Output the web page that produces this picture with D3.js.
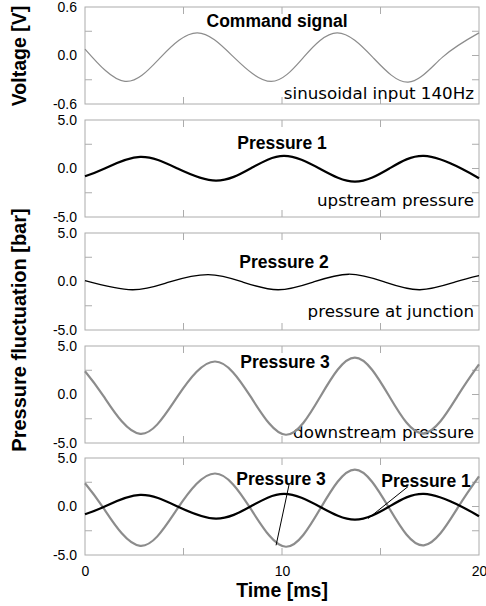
<!DOCTYPE html>
<meta charset="utf-8">
<style>
  body { margin: 0; background: #fff; }
  text { font-family: "Liberation Sans", Arial, sans-serif; }
</style>
<body>
<div id="chart"></div>
<script src="https://cdn.jsdelivr.net/npm/d3@7"></script>
<script>
// time axis
var timeDomain = [0, 20];
var timeTickLabels = [0, 10, 20];
var timeMinorTicks = [5, 10, 15];

// command signal [V]
var cmdTime = [0, 2.03, 3.85, 5.7, 7.55, 9.45, 11.1, 12.8, 14.6, 16.4, 18.15, 20];
var cmdVolt = [0.08, -0.32, -0.02, 0.28, -0.02, -0.32, -0.02, 0.28, -0.02, -0.33, -0.02, 0.28];

// pressure 1 (upstream) [bar]
var p1Time = [0, 1.0, 2.8, 4.7, 6.65, 8.4, 10.1, 11.9, 13.7, 15.45, 17.2, 19.1, 20];
var p1Val = [-0.8, 0, 1.2, 0, -1.25, 0, 1.3, 0, -1.35, 0, 1.3, 0, -1.0];

// pressure 2 (junction) [bar]
var p2Time = [0, 2.4, 4.3, 6.25, 8.0, 9.8, 11.6, 13.4, 15.2, 17.0, 18.8, 20];
var p2Val = [0.1, -0.85, -0.05, 0.7, -0.05, -0.85, -0.05, 0.75, -0.05, -0.85, -0.05, 0.6];

// pressure 3 (downstream) [bar]
var p3Time = [0, 0.95, 2.8, 4.7, 6.6, 8.4, 10.2, 11.95, 13.7, 15.45, 17.2, 18.9, 20];
var p3Val = [2.4, -0.2, -4.05, -0.2, 3.4, -0.2, -4.15, -0.2, 3.8, -0.2, -4.0, -0.2, 3.1];

var voltDomain = [-0.6, 0.6], voltTicks = [-0.6, 0, 0.6];
var presDomain = [-5, 5], presTicks = [-5, 0, 5];

var zip = function(t, v) { return t.map(function(d, i) { return {t: d, v: v[i]}; }); };

var width = 486, height = 606;
var left = 85, right = 479, panelH = 97;
var panelTops = [7, 120, 233, 346, 458];

var svg = d3.select("#chart").append("svg")
  .attr("width", width).attr("height", height);

var x = d3.scaleLinear().domain(timeDomain).range([left, right]);

var panels = [
  {domain: voltDomain, ticks: voltTicks, title: "Command signal", tx: 277, ty: 20,
   note: "sinusoidal input 140Hz", nb: 5,
   series: [{data: zip(cmdTime, cmdVolt), color: "#8c8c8c", w: 1.2}]},
  {domain: presDomain, ticks: presTicks, title: "Pressure 1", tx: 282, ty: 29,
   note: "upstream pressure", nb: 11,
   series: [{data: zip(p1Time, p1Val), color: "#000", w: 2.2}]},
  {domain: presDomain, ticks: presTicks, title: "Pressure 2", tx: 284, ty: 35,
   note: "pressure at junction", nb: 13,
   series: [{data: zip(p2Time, p2Val), color: "#000", w: 1.3}]},
  {domain: presDomain, ticks: presTicks, title: "Pressure 3", tx: 285, ty: 22,
   note: "downstream pressure", nb: 5,
   series: [{data: zip(p3Time, p3Val), color: "#8c8c8c", w: 2.2}]},
  {domain: presDomain, ticks: presTicks,
   series: [{data: zip(p3Time, p3Val), color: "#8c8c8c", w: 2.2},
            {data: zip(p1Time, p1Val), color: "#000", w: 2.2}]}
];

var fmt = function(d) { return d.toFixed(1); };

panels.forEach(function(p, i) {
  var top = panelTops[i];
  var y = d3.scaleLinear().domain(p.domain).range([top + panelH, top]);
  p.y = y;
  var g = svg.append("g");

  g.append("rect")
    .attr("x", left).attr("y", top)
    .attr("width", right - left).attr("height", panelH)
    .attr("fill", "none").attr("stroke", "#acacac").attr("stroke-width", 1);

  var half = [p.domain[0] / 2, p.domain[1] / 2];
  // inner minor ticks
  g.selectAll(".tl").data(half).enter().append("line")
    .attr("x1", left).attr("x2", left + 7)
    .attr("y1", function(d) { return y(d); }).attr("y2", function(d) { return y(d); })
    .attr("stroke", "#acacac");
  g.selectAll(".tr").data([half[0], 0, half[1]]).enter().append("line")
    .attr("x1", right - 7).attr("x2", right)
    .attr("y1", function(d) { return y(d); }).attr("y2", function(d) { return y(d); })
    .attr("stroke", "#acacac");
  g.selectAll(".tt").data(timeMinorTicks).enter().append("line")
    .attr("x1", function(d) { return x(d); }).attr("x2", function(d) { return x(d); })
    .attr("y1", top).attr("y2", top + 7)
    .attr("stroke", "#acacac");
  g.selectAll(".tb").data(timeMinorTicks).enter().append("line")
    .attr("x1", function(d) { return x(d); }).attr("x2", function(d) { return x(d); })
    .attr("y1", top + panelH - 7).attr("y2", top + panelH)
    .attr("stroke", "#acacac");

  // y labels
  var ax = g.append("g")
    .attr("transform", "translate(" + left + ",0)")
    .call(d3.axisLeft(y).tickValues(p.ticks).tickSize(0).tickPadding(8).tickFormat(fmt));
  ax.select(".domain").remove();
  ax.selectAll("text").attr("font-family", "Liberation Sans, Arial, sans-serif")
    .attr("font-size", 14).attr("fill", "#000");

  if (p.note) {
    g.append("text")
      .attr("x", right - 5).attr("y", top + panelH - p.nb)
      .attr("text-anchor", "end")
      .style("font-family", "'DejaVu Sans', Verdana, sans-serif")
      .style("font-size", "16.7px")
      .text(p.note);
  }

  p.series.forEach(function(s) {
    g.append("path")
      .datum(s.data)
      .attr("fill", "none")
      .attr("stroke", s.color)
      .attr("stroke-width", s.w)
      .attr("d", d3.line()
        .x(function(d) { return x(d.t); })
        .y(function(d) { return y(d.v); })
        .curve(d3.curveNatural));
  });

  if (p.title) {
    g.append("text")
      .attr("x", p.tx).attr("y", top + p.ty)
      .attr("text-anchor", "middle")
      .attr("font-weight", "bold")
      .attr("font-size", "17.5px")
      .text(p.title);
  }
});

// annotations in the combined panel
var last = panels[4];
var callouts = [
  {label: "Pressure 3", lx: 281, ly: 485, from: [10.36, 2.27], to: [9.7, -4.0]},
  {label: "Pressure 1", lx: 426, ly: 487, from: [16.4, 2.06], to: [14.37, -1.24]}
];
callouts.forEach(function(c) {
  svg.append("line")
    .attr("x1", x(c.from[0])).attr("y1", last.y(c.from[1]))
    .attr("x2", x(c.to[0])).attr("y2", last.y(c.to[1]))
    .attr("stroke", "#000").attr("stroke-width", 1);
  svg.append("text")
    .attr("x", c.lx).attr("y", c.ly)
    .attr("text-anchor", "middle")
    .attr("font-weight", "bold")
    .attr("font-size", "17.5px")
    .text(c.label);
});

// time axis labels
var xa = svg.append("g")
  .attr("transform", "translate(0," + (panelTops[4] + panelH) + ")")
  .call(d3.axisBottom(x).tickValues(timeTickLabels).tickSize(0).tickPadding(11));
xa.select(".domain").remove();
xa.selectAll("text").attr("font-family", "Liberation Sans, Arial, sans-serif")
  .attr("font-size", 14).attr("fill", "#000");

svg.append("text")
  .attr("x", 282).attr("y", 597)
  .attr("text-anchor", "middle")
  .attr("font-weight", "bold")
  .attr("font-size", "19.5px")
  .text("Time [ms]");

svg.append("text")
  .attr("transform", "translate(26,56) rotate(-90)")
  .attr("text-anchor", "middle")
  .attr("font-weight", "bold")
  .attr("font-size", "19.5px")
  .text("Voltage [V]");

svg.append("text")
  .attr("transform", "translate(26,330) rotate(-90)")
  .attr("text-anchor", "middle")
  .attr("font-weight", "bold")
  .attr("font-size", "20px")
  .text("Pressure fluctuation [bar]");
</script>
</body>
